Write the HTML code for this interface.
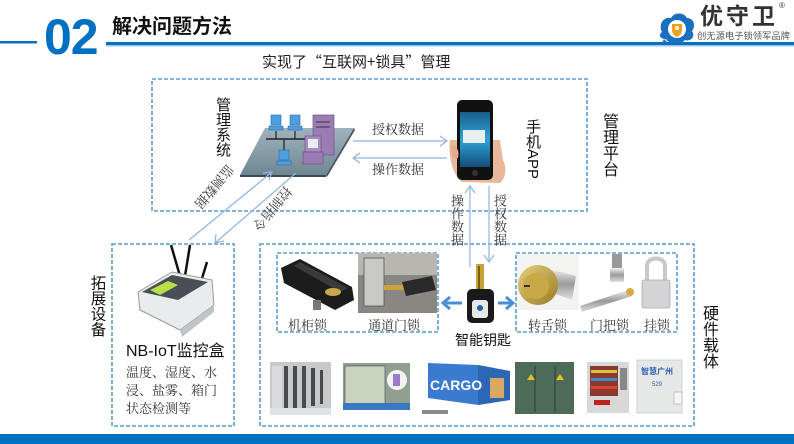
<!DOCTYPE html>
<html>
<head>
<meta charset="utf-8">
<style>
  html,body{margin:0;padding:0;background:#fff;}
  body{width:794px;height:444px;position:relative;overflow:hidden;font-family:"Liberation Sans","Noto Sans CJK SC",sans-serif;color:#222;}
  .a{position:absolute;white-space:nowrap;line-height:1;}
  .v{writing-mode:vertical-rl;position:absolute;line-height:1;white-space:nowrap;}
  .serif{font-family:"Liberation Serif","Noto Serif CJK SC",serif;}
  svg{position:absolute;left:0;top:0;}
</style>
</head>
<body>
<svg width="794" height="444" viewBox="0 0 794 444" xmlns="http://www.w3.org/2000/svg">
  <defs>
    <linearGradient id="plat" x1="0" y1="0" x2="0" y2="1">
      <stop offset="0" stop-color="#9fb3bd"/>
      <stop offset="1" stop-color="#6f8792"/>
    </linearGradient>
    <linearGradient id="scr" x1="0" y1="0" x2="0" y2="1">
      <stop offset="0" stop-color="#1a5f8c"/>
      <stop offset="0.5" stop-color="#2fa3d6"/>
      <stop offset="1" stop-color="#134d78"/>
    </linearGradient>
    <linearGradient id="gold" x1="0" y1="0" x2="1" y2="1">
      <stop offset="0" stop-color="#e6cf7a"/>
      <stop offset="1" stop-color="#9c7a25"/>
    </linearGradient>
    <linearGradient id="chrome" x1="0" y1="0" x2="0" y2="1">
      <stop offset="0" stop-color="#f2f2f2"/>
      <stop offset="0.5" stop-color="#9a9a9a"/>
      <stop offset="1" stop-color="#e0e0e0"/>
    </linearGradient>
  </defs>

  <!-- header lines -->
  <rect x="0" y="41" width="37" height="2.5" fill="#0070c0"/>
  <rect x="106" y="42" width="688" height="3" fill="#0070c0"/>
  <rect x="106" y="45" width="688" height="1.5" fill="#9cc3e6"/>

  <!-- logo cloud -->
  <g transform="translate(658,12)">
    <path d="M4 20 C0 12 6 4 13 6 C16 0 26 0 29 6 C36 6 38 14 34 19 C38 25 32 30 27 28 C22 34 10 32 8 27 C2 27 0 23 4 20 Z" fill="#1b6fc0"/>
    <circle cx="19" cy="17" r="9" fill="#fff"/>
    <path d="M14 12 L24 12 L24 18 C24 22 21 24 19 25 C17 24 14 22 14 18 Z" fill="#f0a020"/>
    <circle cx="19" cy="16" r="2" fill="#fff"/>
    <path d="M6 27 L10 31 L4 31 Z" fill="#1b6fc0"/>
  </g>

  <!-- dashed boxes -->
  <g fill="none" stroke="#5b9bd5" stroke-width="1.6" stroke-dasharray="4 2">
    <rect x="152" y="79" width="435" height="132"/>
    <rect x="112" y="244" width="122" height="182"/>
    <rect x="260" y="244" width="434" height="182"/>
    <rect x="277" y="253" width="161" height="79"/>
    <rect x="516" y="253" width="161" height="79"/>
  </g>

  <!-- management system graphic -->
  <g>
    <polygon points="265,128 354,128 326,175 240,175" fill="url(#plat)"/>
    <polygon points="240,175 326,175 326,177 240,177" fill="#3c4a52"/>
    <polygon points="326,175 354,128 355,130 327,177" fill="#4a5860"/>
    <line x1="266" y1="139" x2="310" y2="139" stroke="#222" stroke-width="1.5"/>
    <line x1="276" y1="131" x2="276" y2="139" stroke="#222" stroke-width="1.2"/>
    <line x1="295" y1="131" x2="295" y2="139" stroke="#222" stroke-width="1.2"/>
    <line x1="284" y1="139" x2="284" y2="150" stroke="#222" stroke-width="1.2"/>
    <g fill="#4f9fe0" stroke="#2a6aa8" stroke-width="0.6">
      <rect x="271" y="115" width="10" height="10"/><rect x="269" y="126" width="14" height="4"/>
      <rect x="290" y="115" width="10" height="10"/><rect x="288" y="126" width="14" height="4"/>
      <rect x="279" y="150" width="10" height="10"/><rect x="277" y="161" width="14" height="4"/>
    </g>
    <rect x="313" y="115" width="21" height="40" fill="#9a7cb2" stroke="#6e5284" stroke-width="0.7"/>
    <rect x="316" y="121" width="14" height="2" fill="#6e5284"/>
    <rect x="316" y="126" width="14" height="2" fill="#6e5284"/>
    <rect x="305" y="136" width="16" height="16" fill="#a88cc0" stroke="#6e5284" stroke-width="0.7"/>
    <rect x="308" y="139" width="10" height="9" fill="#e8eef5"/>
    <rect x="303" y="152" width="20" height="12" fill="#9a7cb2" stroke="#6e5284" stroke-width="0.7"/>
  </g>

  <!-- phone -->
  <g>
    <path d="M450 140 C448 155 452 175 462 182 L500 183 C506 178 507 168 503 160 L500 140 Z" fill="#e9b89a"/>
    <rect x="457" y="100" width="36" height="80" rx="5" fill="#111"/>
    <rect x="460" y="112" width="30" height="55" fill="url(#scr)"/>
    <rect x="463" y="130" width="22" height="13" fill="#e9eef3"/>
    <circle cx="475" cy="173" r="3" fill="#333"/>
    <path d="M452 145 C456 146 460 150 458 158 C454 160 451 156 452 145 Z" fill="#e3a98a"/>
  </g>

  <!-- arrows -->
  <g stroke="#8fb4e0" stroke-width="1.2" fill="none">
    <line x1="353" y1="141" x2="447" y2="141"/>
    <polyline points="440,136 447,141 440,146"/>
    <line x1="353" y1="158" x2="447" y2="158"/>
    <polyline points="360,153 353,158 360,163"/>
    <line x1="470" y1="186" x2="470" y2="267"/>
    <polyline points="465,193 470,186 475,193"/>
    <line x1="489" y1="186" x2="489" y2="262"/>
    <polyline points="484,255 489,262 494,255"/>
    <line x1="189" y1="240" x2="272" y2="172"/>
    <polyline points="263,173 272,172 269,180"/>
    <line x1="296" y1="173" x2="215" y2="243"/>
    <polyline points="216,234 215,243 224,241"/>
  </g>

  <!-- key -->
  <g>
    <rect x="476" y="264" width="8" height="28" fill="#c9a43a"/>
    <rect x="478" y="266" width="2" height="24" fill="#7a5e18"/>
    <rect x="467" y="289" width="27" height="34" rx="5" fill="#1a1a1a"/>
    <rect x="472" y="300" width="16" height="18" rx="3" fill="#e8e8e8"/>
    <circle cx="480" cy="308" r="3" fill="#1d5fb5"/>
  </g>
  <g stroke="#4a8fd8" stroke-width="3" fill="none">
    <line x1="444" y1="303" x2="462" y2="303"/>
    <polyline points="450,297 443,303 450,309"/>
    <line x1="498" y1="303" x2="512" y2="303"/>
    <polyline points="506,297 513,303 506,309"/>
  </g>

  <!-- NB-IoT device -->
  <g>
    <line x1="171" y1="245" x2="180" y2="276" stroke="#111" stroke-width="2.5"/>
    <line x1="190" y1="245" x2="185" y2="276" stroke="#111" stroke-width="2.5"/>
    <line x1="207" y1="262" x2="200" y2="285" stroke="#111" stroke-width="2.5"/>
    <polygon points="138,292 172,272 212,280 214,305 180,330 140,310" fill="#e9ecec" stroke="#999" stroke-width="1"/>
    <polygon points="142,292 172,275 208,282 178,300" fill="#4a4f55"/>
    <polygon points="150,290 168,281 178,285 160,295" fill="#b9e04a"/>
    <polygon points="180,330 214,305 214,312 182,337" fill="#bfc4c6"/>
  </g>

  <!-- machine cabinet lock -->
  <g>
    <polygon points="281,268 300,259 352,287 354,300 335,310 284,283" fill="#1c1c1c"/>
    <polygon points="300,262 348,288 340,292 294,266" fill="#3a3a3a"/>
    <ellipse cx="333" cy="292" rx="8" ry="4" fill="#c8a84a"/>
    <rect x="313" y="300" width="8" height="10" fill="#777"/>
  </g>
  <!-- channel door lock -->
  <g>
    <rect x="358" y="253" width="79" height="60" fill="#8a8783"/>
    <rect x="358" y="253" width="79" height="22" fill="#b8b6b1"/>
    <rect x="364" y="258" width="20" height="48" fill="#c9c9c6" stroke="#555" stroke-width="0.8"/>
    <rect x="384" y="285" width="22" height="5" fill="#c9a43a"/>
    <polygon points="402,282 432,276 436,290 406,296" fill="#2a2a2a"/>
  </g>
  <!-- 转舌锁 -->
  <g>
    <rect x="517" y="254" width="62" height="56" fill="#f3f3f1"/>
    <polygon points="545,268 576,276 572,300 550,292" fill="url(#chrome)"/>
    <circle cx="538" cy="285" r="20" fill="url(#gold)"/>
    <circle cx="536" cy="286" r="13" fill="#c9a848"/>
    <rect x="524" y="285" width="6" height="2" fill="#333"/>
  </g>
  <!-- 门把锁 -->
  <g>
    <rect x="612" y="254" width="10" height="16" fill="#999"/>
    <rect x="610" y="268" width="14" height="14" fill="url(#chrome)"/>
    <polygon points="580,306 628,290 632,296 582,312" fill="url(#chrome)"/>
    <circle cx="630" cy="292" r="4" fill="#d9a94a"/>
  </g>
  <!-- 挂锁 -->
  <g>
    <path d="M647 282 L647 266 C647 256 665 256 665 266 L665 282" fill="none" stroke="#c8c8c8" stroke-width="4"/>
    <rect x="642" y="280" width="28" height="28" rx="2" fill="#d4d4d6" stroke="#aaa" stroke-width="0.8"/>
  </g>

  <!-- bottom photos -->
  <g>
    <rect x="270" y="362" width="61" height="53" fill="#c7c9cc"/>
    <rect x="272" y="366" width="10" height="46" fill="#d9dadc"/>
    <g fill="#4a4a4a">
      <rect x="284" y="366" width="4" height="42"/><rect x="293" y="366" width="4" height="42"/>
      <rect x="302" y="366" width="4" height="42"/><rect x="311" y="368" width="4" height="38"/>
      <rect x="320" y="370" width="3" height="34"/>
    </g>
    <rect x="270" y="408" width="61" height="7" fill="#dde3e8"/>

    <rect x="343" y="363" width="67" height="47" fill="#8fa08e"/>
    <rect x="345" y="366" width="40" height="38" fill="#c9d3bd" stroke="#445" stroke-width="0.6"/>
    <rect x="343" y="403" width="67" height="7" fill="#3b78c4"/>
    <circle cx="397" cy="380" r="10" fill="#f2f2f2"/>
    <rect x="393" y="374" width="7" height="12" fill="#9b7cc8"/>

    <polygon points="428,363 478,365 510,371 510,400 478,405 428,398" fill="#3a7bd0"/>
    <polygon points="478,365 510,371 510,400 478,405" fill="#2c66b4"/>
    <rect x="490" y="378" width="14" height="20" fill="#d9a862"/>
    <text x="430" y="390" font-family="Liberation Sans" font-weight="bold" font-size="14" fill="#fff">CARGO</text>
    <rect x="422" y="410" width="26" height="4" fill="#888"/>

    <rect x="515" y="362" width="59" height="52" fill="#4d6b58"/>
    <line x1="535" y1="366" x2="535" y2="412" stroke="#2c3e33"/>
    <line x1="555" y1="366" x2="555" y2="412" stroke="#2c3e33"/>
    <polygon points="527,380 531,374 535,380" fill="#e5c22a"/>
    <polygon points="556,380 560,374 564,380" fill="#e5c22a"/>

    <rect x="587" y="362" width="42" height="51" fill="#d8d8d8"/>
    <rect x="590" y="366" width="28" height="30" fill="#8a3a2a"/>
    <rect x="591" y="370" width="26" height="3" fill="#e0c040"/>
    <rect x="591" y="378" width="26" height="3" fill="#3c8ad0"/>
    <rect x="591" y="386" width="26" height="3" fill="#e04030"/>
    <rect x="620" y="368" width="7" height="22" fill="#888"/>
    <rect x="594" y="400" width="16" height="5" fill="#c02020"/>

    <rect x="637" y="360" width="45" height="53" fill="#e6e8e8" stroke="#c8cccc" stroke-width="0.8"/>
    <text x="641" y="374" font-family="Noto Sans CJK SC" font-weight="bold" font-size="8" fill="#2a5fb0">智慧广州</text>
    <text x="652" y="386" font-family="Liberation Sans" font-size="6" fill="#2a5fb0">529</text>
    <rect x="674" y="392" width="8" height="12" fill="#f5f5f5" stroke="#999" stroke-width="0.5"/>
  </g>

  <!-- footer -->
  <rect x="0" y="434" width="794" height="10" fill="#0070c0"/>
</svg>

<!-- header text -->
<div class="a" style="left:44px;top:12px;font-size:50px;font-weight:bold;color:#0070c0;letter-spacing:-1px;">02</div>
<div class="a" style="left:112px;top:17px;font-size:20px;font-weight:bold;color:#111;">解决问题方法</div>
<div class="a" style="left:700px;top:5px;font-size:23px;font-weight:bold;color:#333;letter-spacing:3px;">优守卫</div>
<div class="a" style="left:779px;top:2px;font-size:8px;color:#333;">®</div>
<div class="a" style="left:697px;top:32px;font-size:9.3px;color:#555;">创无源电子锁领军品牌</div>

<!-- subtitle -->
<div class="a" style="left:262px;top:54px;font-size:15px;color:#222;font-family:'Noto Sans CJK SC','Liberation Sans',sans-serif;">实现了“互联网+锁具”管理</div>

<!-- vertical labels -->
<div class="v" style="left:215px;top:97px;font-size:15px;color:#111;">管理系统</div>
<div class="v" style="left:600px;top:113px;font-size:16px;color:#111;">管理平台</div>
<div class="v" style="left:525px;top:119px;font-size:15px;color:#111;">手机APP</div>
<div class="v" style="left:89px;top:275px;font-size:15.5px;color:#111;">拓展设备</div>
<div class="v" style="left:700px;top:305px;font-size:16px;color:#111;">硬件载体</div>
<div class="v serif" style="left:450px;top:194px;font-size:13px;color:#333;">操作数据</div>
<div class="v serif" style="left:493px;top:194px;font-size:13px;color:#333;">授权数据</div>

<!-- horizontal flow labels -->
<div class="a serif" style="left:372px;top:123px;font-size:13px;color:#333;">授权数据</div>
<div class="a serif" style="left:372px;top:163px;font-size:13px;color:#333;">操作数据</div>

<!-- diagonal labels -->
<div class="a serif" style="left:188px;top:180px;font-size:13px;color:#333;transform:rotate(130deg);transform-origin:center;">监测数据</div>
<div class="a serif" style="left:246px;top:202px;font-size:13px;color:#333;transform:rotate(130deg);transform-origin:center;">控制指令</div>

<!-- device labels -->
<div class="a" style="left:126px;top:344px;font-size:16px;color:#111;">NB-IoT监控盒</div>
<div class="a serif" style="left:126px;top:364px;font-size:13px;color:#333;line-height:18px;white-space:normal;width:95px;">温度、湿度、水<br>浸、盐雾、箱门<br>状态检测等</div>

<div class="a" style="left:455px;top:333px;font-size:14px;color:#111;">智能钥匙</div>
<div class="a serif" style="left:288px;top:319px;font-size:13px;color:#333;">机柜锁</div>
<div class="a serif" style="left:368px;top:319px;font-size:13px;color:#333;">通道门锁</div>
<div class="a serif" style="left:528px;top:319px;font-size:13px;color:#333;">转舌锁</div>
<div class="a serif" style="left:590px;top:319px;font-size:13px;color:#333;">门把锁</div>
<div class="a serif" style="left:644px;top:319px;font-size:13px;color:#333;">挂锁</div>
</body>
</html>
